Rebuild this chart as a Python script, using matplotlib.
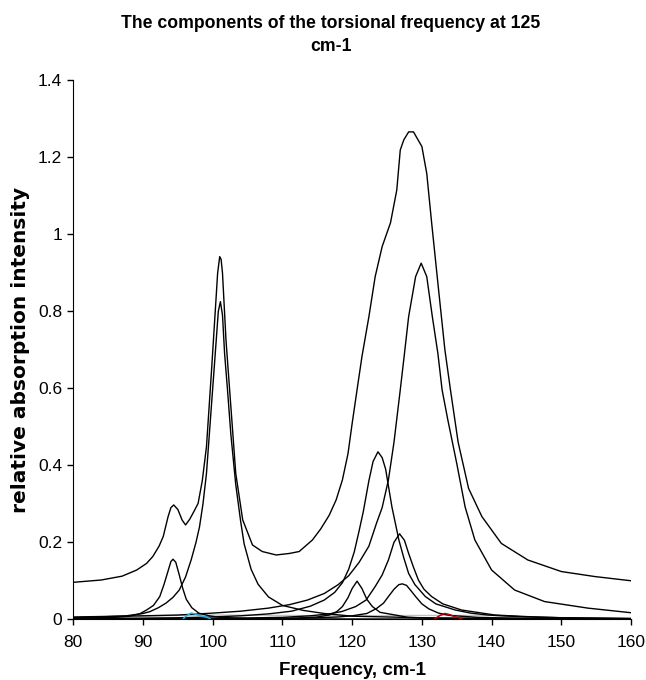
import matplotlib
matplotlib.use("Agg")
import matplotlib.pyplot as plt

plt.rcParams['font.family'] = ['Liberation Sans', 'DejaVu Sans']

# Envelope (sum of components plus background)
total_x = [80, 82, 84, 85.2, 87, 89.1, 90.5, 91.4, 92.3, 92.9, 93.6, 94.0, 94.4, 95.0, 95.6,
           96.1, 96.7, 97.3, 97.9, 98.5, 99.1, 99.8, 100.4, 100.7, 101.0, 101.2, 101.4, 101.9,
           102.6, 103.3, 104.3, 105.7, 107.1, 109.1, 111.0, 112.4, 114.3, 115.5, 116.7, 117.7,
           118.6, 119.4, 120.0, 120.7, 121.4, 122.4, 123.3, 124.3, 125.5, 126.4, 126.9, 127.4,
           128.1, 128.8, 129.3, 130.0, 130.7, 131.4, 132.4, 133.3, 134.1, 135.2, 136.7, 138.6,
           141.4, 145.2, 150.0, 154.8, 160.0]
total_y = [0.096, 0.099, 0.102, 0.106, 0.112, 0.128, 0.145, 0.163, 0.19, 0.215, 0.267, 0.29,
           0.297, 0.285, 0.258, 0.245, 0.26, 0.28, 0.301, 0.36, 0.448, 0.639, 0.812, 0.899,
           0.942, 0.935, 0.899, 0.725, 0.552, 0.379, 0.258, 0.193, 0.176, 0.167, 0.171, 0.176,
           0.206, 0.235, 0.27, 0.31, 0.362, 0.43, 0.509, 0.596, 0.682, 0.786, 0.89, 0.968,
           1.03, 1.115, 1.219, 1.245, 1.266, 1.266, 1.25, 1.228, 1.158, 1.03, 0.855, 0.70,
           0.596, 0.46, 0.34, 0.267, 0.197, 0.154, 0.124, 0.111, 0.10]

# Component at ~94 cm-1
c94_x = [80, 86, 88, 89.5, 90.5, 91.5, 92.4, 93.0, 93.5, 94.0, 94.3, 94.7, 95.2, 95.7, 96.2,
         97.0, 98.0, 99.5, 101, 105, 110, 160]
c94_y = [0.002, 0.005, 0.008, 0.014, 0.024, 0.036, 0.059, 0.09, 0.12, 0.15, 0.156, 0.148,
         0.115, 0.08, 0.052, 0.03, 0.016, 0.009, 0.005, 0.002, 0.001, 0.0]

# Component at ~101 cm-1
c101_x = [80, 85, 87.6, 90, 91, 92.2, 93.3, 94.3, 95.2, 96.1, 96.9, 97.6, 98.1, 98.6, 99.1,
          99.8, 100.5, 100.8, 101.1, 101.4, 101.7, 102.1, 102.6, 103.3, 104.0, 104.5, 105.5,
          106.5, 108, 110, 113, 116, 120, 130, 145, 160]
c101_y = [0.004, 0.007, 0.009, 0.015, 0.02, 0.03, 0.042, 0.057, 0.076, 0.11, 0.154, 0.2, 0.24,
          0.3, 0.379, 0.552, 0.725, 0.8, 0.825, 0.79, 0.69, 0.6, 0.48, 0.35, 0.255, 0.196,
          0.13, 0.091, 0.058, 0.036, 0.023, 0.015, 0.008, 0.004, 0.002, 0.001]

# Component at ~121 cm-1
c121_x = [80, 105, 112, 115, 116.7, 117.8, 118.6, 119.4, 120.0, 120.7, 121.4, 122.1, 122.9,
          124.0, 126.2, 128, 132, 140, 160]
c121_y = [0.0, 0.001, 0.003, 0.006, 0.011, 0.02, 0.033, 0.056, 0.08, 0.099, 0.08, 0.052,
          0.033, 0.018, 0.011, 0.005, 0.002, 0.001, 0.0]

# Component at ~124 cm-1
c124_x = [80, 90, 95, 100, 104, 108, 111.3, 114, 116, 117.5, 118.6, 119.5, 120.3, 121.0, 121.6,
          122.4, 123.0, 123.7, 124.3, 124.8, 125.7, 126.7, 127.4, 128.1, 129.0, 130.5, 132,
          134.8, 137, 139.5, 145, 150, 160]
c124_y = [0.002, 0.003, 0.004, 0.006, 0.009, 0.014, 0.021, 0.034, 0.05, 0.07, 0.095, 0.13,
          0.175, 0.23, 0.28, 0.36, 0.41, 0.435, 0.42, 0.39, 0.292, 0.206, 0.16, 0.119, 0.09,
          0.059, 0.04, 0.024, 0.016, 0.011, 0.006, 0.004, 0.002]

# Component at ~127 cm-1 (tall)
c127a_x = [80, 100, 110, 114, 116.7, 118.5, 120.5, 122.0, 123.3, 124.3, 125.2, 126.0, 126.8,
           127.5, 128.1, 128.8, 129.5, 130.3, 131.4, 133, 135.7, 140.5, 145, 150, 160]
c127a_y = [0.001, 0.002, 0.005, 0.009, 0.014, 0.02, 0.033, 0.05, 0.085, 0.115, 0.154, 0.2,
           0.222, 0.205, 0.171, 0.135, 0.102, 0.078, 0.059, 0.04, 0.024, 0.011, 0.007, 0.004,
           0.002]

# Component at ~127 cm-1 (small)
c127b_x = [80, 110, 115, 118, 120, 122.1, 123.5, 124.5, 125.2, 126.0, 126.7, 127.2, 127.8,
           128.4, 129.1, 130.0, 131.0, 132.4, 134, 138, 145, 150, 160]
c127b_y = [0.0, 0.002, 0.004, 0.006, 0.009, 0.015, 0.028, 0.042, 0.059, 0.078, 0.09, 0.092,
           0.088, 0.075, 0.059, 0.04, 0.027, 0.016, 0.01, 0.005, 0.002, 0.001, 0.0]

# Component at ~130 cm-1
c130_x = [80, 90, 95, 100, 104, 108, 111, 113.6, 116, 118, 119.5, 121, 122.4, 123.5, 124.3,
          125.2, 126.0, 126.9, 127.5, 128.1, 129.1, 129.9, 130.7, 131.5, 132.3, 132.9, 133.7,
          135.0, 136.2, 137.6, 140.0, 143.3, 147.6, 153.8, 160]
c130_y = [0.006, 0.009, 0.011, 0.016, 0.021, 0.029, 0.038, 0.05, 0.067, 0.09, 0.113, 0.148,
          0.19, 0.25, 0.29, 0.362, 0.46, 0.596, 0.69, 0.786, 0.89, 0.925, 0.89, 0.786, 0.69,
          0.596, 0.52, 0.405, 0.292, 0.206, 0.128, 0.076, 0.046, 0.029, 0.017]

# Minor components
cyan_x = [95.8, 96.3, 96.9, 97.5, 98.0, 98.5, 99.0, 99.6]
cyan_y = [0.002, 0.01, 0.016, 0.014, 0.01, 0.008, 0.006, 0.002]
red_x = [131.9, 132.6, 133.3, 134.0, 134.8, 135.7]
red_y = [0.002, 0.01, 0.015, 0.012, 0.006, 0.002]
gray_x = [80, 85, 90, 95, 100, 110, 120, 130, 140, 143, 145]
gray_y = [0.003, 0.005, 0.008, 0.01, 0.011, 0.01, 0.009, 0.01, 0.01, 0.006, 0.002]

fig = plt.figure(figsize=(6.46, 6.80), dpi=100)
ax = fig.add_axes([0.1135, 0.0893, 0.8633, 0.7926])

ax.plot(gray_x, gray_y, color="#c0c0c0", lw=1.0)
for xs, ys in [(c94_x, c94_y), (c101_x, c101_y), (c121_x, c121_y), (c124_x, c124_y),
               (c127a_x, c127a_y), (c127b_x, c127b_y), (c130_x, c130_y), (total_x, total_y)]:
    ax.plot(xs, ys, color="black", lw=1.0)
ax.plot(cyan_x, cyan_y, color="#1ab2e6", lw=1.1, zorder=3)
ax.plot(red_x, red_y, color="#b00000", lw=1.1, zorder=3)

ax.set_xlim(80, 160)
ax.set_ylim(0, 1.4)
ax.set_xticks(range(80, 161, 10))
ax.set_yticks([0, 0.2, 0.4, 0.6, 0.8, 1.0, 1.2, 1.4])
ax.set_yticklabels(["0", "0.2", "0.4", "0.6", "0.8", "1", "1.2", "1.4"])
ax.spines["top"].set_visible(False)
ax.spines["right"].set_visible(False)
ax.tick_params(direction="out", length=4, width=1, labelsize=12.5)
ax.tick_params(axis="x", pad=7)
ax.tick_params(axis="y", pad=4)

ax.set_xlabel("Frequency, cm-1", fontsize=13.5, fontweight="bold", labelpad=9)
ax.set_ylabel("relative absorption intensity", fontsize=14.5, fontweight="bold", labelpad=6,
              family=["DejaVu Sans"])
fig.suptitle("The components of the torsional frequency at 125\ncm-1", fontsize=12.7,
             fontweight="bold", x=0.512, y=0.978, linespacing=1.45)

fig.savefig("out.png", dpi=100)
